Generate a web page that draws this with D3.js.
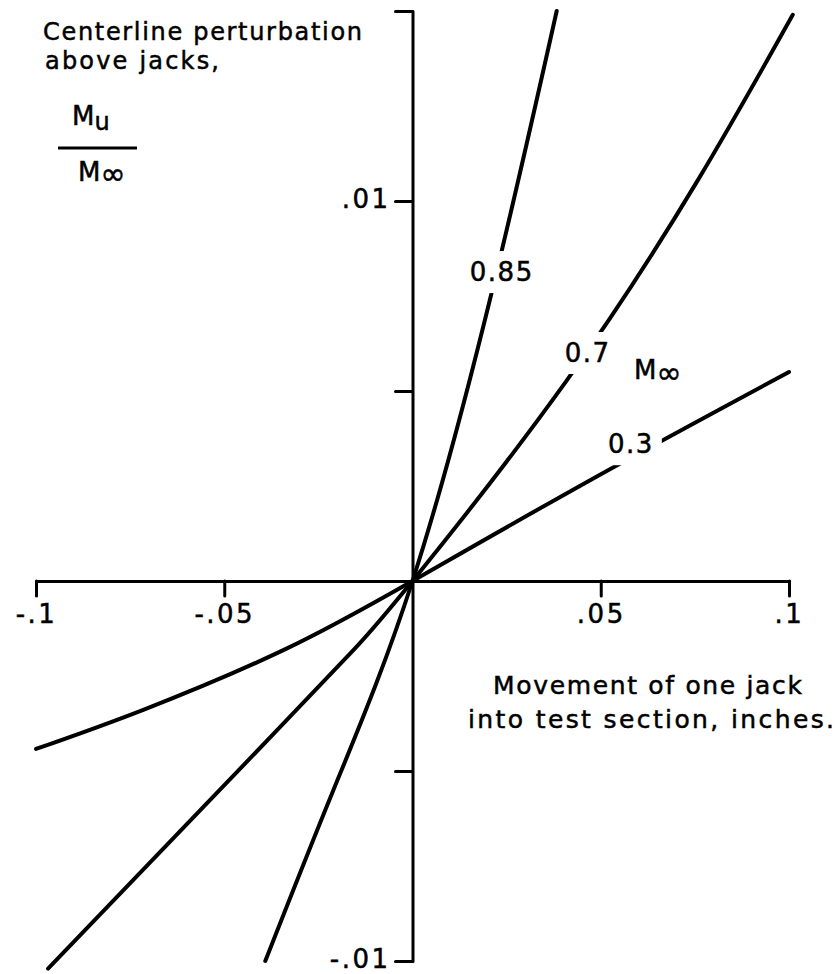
<!DOCTYPE html>
<html>
<head>
<meta charset="utf-8">
<script src="https://cdn.jsdelivr.net/npm/d3@7"></script>
<style>
  html, body { margin: 0; padding: 0; background: #fff; }
  svg { display: block; }
  text { font-family: "DejaVu Sans", sans-serif; fill: #000; stroke: #000; stroke-width: 0.5px; }
</style>
</head>
<body>
<svg id="chart" width="839" height="974"></svg>
<script>
// Jack movement (inches) and centreline perturbation Mu/M∞ for each free-stream Mach number
const mach085X = [-0.0391, -0.0210, 0, 0.0210, 0.0383];
const mach085Y = [-0.0100, -0.0055, 0, 0.00758, 0.0150];
const mach07X = [-0.0968, -0.0359, -0.0157, 0, 0.0407, 0.0758, 0.1010];
const mach07Y = [-0.0102, -0.00392, -0.00182, 0, 0.00524, 0.01055, 0.0149];
const mach03X = [-0.1000, -0.0715, -0.0343, 0, 0.0473, 0.1000];
const mach03Y = [-0.00442, -0.00339, -0.00182, 0, 0.00266, 0.0055];

const machNumbers = ["0.85", "0.7", "0.3"];

const xTicks = [-0.1, -0.05, 0.05, 0.1];
const xTickLabels = ["-.1", "-.05", ".05", ".1"];
const yTicks = [0.015, 0.01, 0.005, -0.005, -0.01];
const yTickLabels = ["", ".01", "", "", "-.01"];

const svg = d3.select("#chart");

const x = d3.scaleLinear().domain([-0.1, 0.1]).range([36, 789]);
const y = d3.scaleLinear().domain([-0.01, 0.015]).range([961, 11]);

// Axes cross at the origin
const xAxis = d3.axisBottom(x)
  .tickValues(xTicks)
  .tickFormat((d, i) => xTickLabels[i])
  .tickSize(15)
  .tickSizeOuter(0)
  .tickPadding(9);

const yAxis = d3.axisLeft(y)
  .tickValues(yTicks)
  .tickFormat((d, i) => yTickLabels[i])
  .tickSize(17)
  .tickSizeOuter(0)
  .tickPadding(5);

const gx = svg.append("g")
  .attr("transform", `translate(0,${y(0)})`)
  .call(xAxis);
const gy = svg.append("g")
  .attr("transform", `translate(${x(0)},0)`)
  .call(yAxis);

[gx, gy].forEach(g => {
  g.select(".domain").attr("stroke", "#000").attr("stroke-width", 3).attr("stroke-linecap", "round");
  g.selectAll(".tick line").attr("stroke", "#000").attr("stroke-width", 3).attr("stroke-linecap", "round");
  g.selectAll(".tick text")
    .attr("font-family", "DejaVu Sans, sans-serif")
    .attr("font-size", 26)
    .attr("letter-spacing", 2.5)
    .attr("fill", "#000");
});
gy.selectAll(".tick text").attr("dy", "0.25em");

// Curves
const series = [
  { label: machNumbers[0], xs: mach085X, ys: mach085Y, at: [0.0237, 0.00813] },
  { label: machNumbers[1], xs: mach07X, ys: mach07Y, at: [0.0465, 0.0060] },
  { label: machNumbers[2], xs: mach03X, ys: mach03Y, at: [0.0580, 0.0036] }
];

const line = d3.line()
  .x(d => x(d[0]))
  .y(d => y(d[1]))
  .curve(d3.curveNatural);

const curves = svg.append("g");
series.forEach(s => {
  curves.append("path")
    .datum(d3.zip(s.xs, s.ys))
    .attr("d", line)
    .attr("fill", "none")
    .attr("stroke", "#000")
    .attr("stroke-width", 4)
    .attr("stroke-linecap", "round")
    .attr("stroke-linejoin", "round");
});

// Curve labels sit in gaps cut out of their lines
const labels = svg.append("g");
series.forEach(s => {
  const g = labels.append("g");
  const t = g.append("text")
    .attr("x", x(s.at[0]))
    .attr("y", y(s.at[1]))
    .attr("text-anchor", "middle")
    .attr("dominant-baseline", "central")
    .attr("font-size", 26)
    .attr("letter-spacing", 1.5)
    .text(s.label);
  const b = t.node().getBBox();
  g.insert("rect", "text")
    .attr("x", b.x - 8)
    .attr("y", b.y - 6)
    .attr("width", b.width + 16)
    .attr("height", b.height + 12)
    .attr("fill", "#fff");
});

// M∞ legend beside the curve labels
const mInf = svg.append("text")
  .attr("x", 634)
  .attr("y", 379)
  .attr("font-size", 26);
mInf.append("tspan").text("M");
mInf.append("tspan").attr("font-size", 30).attr("dy", 4).text("∞");

// Y-axis title
svg.append("text")
  .attr("x", 43).attr("y", 40)
  .attr("font-size", 24)
  .attr("textLength", 319).attr("lengthAdjust", "spacing")
  .text("Centerline perturbation");
svg.append("text")
  .attr("x", 45).attr("y", 69)
  .attr("font-size", 24)
  .attr("textLength", 174).attr("lengthAdjust", "spacing")
  .text("above jacks,");

const num = svg.append("text").attr("x", 72).attr("y", 125).attr("font-size", 26);
num.append("tspan").text("M");
num.append("tspan").attr("font-size", 24).attr("dy", 5).text("u");

svg.append("line")
  .attr("x1", 58).attr("x2", 137)
  .attr("y1", 148).attr("y2", 148)
  .attr("stroke", "#000").attr("stroke-width", 3);

const den = svg.append("text").attr("x", 78).attr("y", 181).attr("font-size", 26);
den.append("tspan").text("M");
den.append("tspan").attr("font-size", 30).attr("dy", 3).text("∞");

// X-axis title
svg.append("text")
  .attr("x", 493).attr("y", 694)
  .attr("font-size", 25)
  .attr("textLength", 309).attr("lengthAdjust", "spacing")
  .text("Movement of one jack");
svg.append("text")
  .attr("x", 468).attr("y", 728)
  .attr("font-size", 25)
  .attr("textLength", 366).attr("lengthAdjust", "spacing")
  .text("into test section, inches.");
</script>
</body>
</html>
